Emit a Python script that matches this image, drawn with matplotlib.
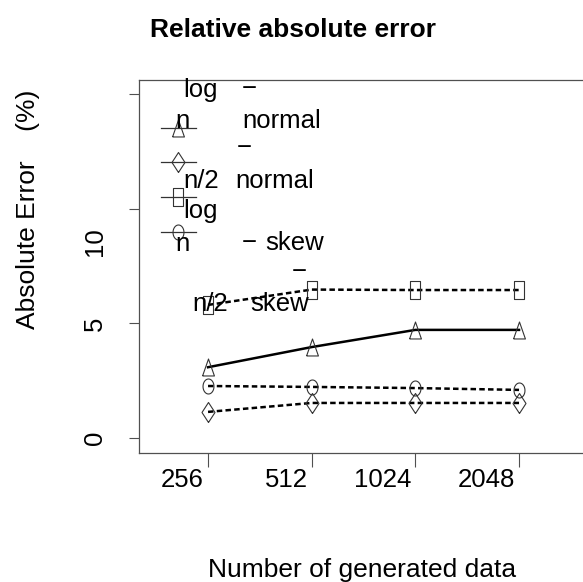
import numpy as np
import matplotlib
matplotlib.use('Agg')
import matplotlib.pyplot as plt
import matplotlib.transforms as mtransforms
from matplotlib.lines import Line2D

plt.rcParams['font.family'] = ['Liberation Sans', 'DejaVu Sans']

# Data.
sizes = ['256', '512', '1024', '2048']
log_n_normal = [3.09, 3.97, 4.72, 4.72]
n2_normal = [1.14, 1.53, 1.53, 1.53]
log_n_skew = [5.81, 6.48, 6.46, 6.46]
n2_skew = [2.27, 2.23, 2.18, 2.10]

W, H = 583, 582


# Convert pixel positions of the reference image to figure fractions.
def fx(x):
    return x / W


def fy(y):
    return 1 - y / H


# Open markers, a bit taller than wide like in the reference.
tri = [(-0.7, -1), (0.7, -1), (0, 1), (-0.7, -1)]
diamond = [(0, -1), (0.65, 0), (0, 1), (-0.65, 0), (0, -1)]
square = [(-0.55, -1), (0.55, -1), (0.55, 1), (-0.55, 1), (-0.55, -1)]
t = np.linspace(0, 2 * np.pi, 41)
circle = list(zip(0.73 * np.cos(t), np.sin(t)))

dash = (0, (2.2, 1.3))
series = [
    (log_n_normal, tri, 12.2, '-'),
    (n2_normal, diamond, 14.4, dash),
    (log_n_skew, square, 13.0, dash),
    (n2_skew, circle, 10.8, dash),
]

fig = plt.figure(figsize=(W / 100, H / 100), dpi=100)
ax = fig.add_axes([fx(139), fy(453), fx(620) - fx(139), fy(80) - fy(453)])

x = np.arange(1, len(sizes) + 1)
for values, mk, ms, ls in series:
    ax.plot(x, values, color='black', lw=1.8, linestyle=ls, marker=mk,
            ms=ms, mfc='none', mec='#333333', mew=0.8)

ax.set_xlim(0.334, 4.974)
ax.set_ylim(-0.655, 15.63)

# Axes frame: no right side.
ax.spines['right'].set_visible(False)
for side in ['left', 'top', 'bottom']:
    ax.spines[side].set_color('#505050')
    ax.spines[side].set_linewidth(0.9)

ax.set_xticks(x, sizes)
ax.tick_params(axis='x', length=10, width=0.8, color='#505050', pad=0.7,
               labelsize=18.5)
shift_x = mtransforms.ScaledTranslation(-4 / 100, 0, fig.dpi_scale_trans)
for lab in ax.get_xticklabels():
    lab.set_ha('right')
    lab.set_transform(lab.get_transform() + shift_x)

ax.set_yticks([0, 5, 10, 15], ['0', '5', '10', ''])
ax.tick_params(axis='y', length=7.2, width=0.8, color='#505050', pad=19.4,
               labelsize=18.5)
for lab in ax.get_yticklabels():
    lab.set_rotation(90)
    lab.set_rotation_mode('anchor')
    lab.set_ha('center')
    lab.set_va('baseline')
# The "10" label sits lower than its tick in the reference.
lab10 = ax.get_yticklabels()[2]
lab10.set_transform(lab10.get_transform() +
                    mtransforms.ScaledTranslation(0, -33 / 100,
                                                  fig.dpi_scale_trans))

# Titles.
fig.text(fx(293.5), fy(36.7), 'Relative absolute error', ha='center',
         va='baseline', fontsize=19, fontweight='bold')
fig.text(fx(362), fy(577), 'Number of generated data', ha='center',
         va='baseline', fontsize=19)
fig.text(fx(35), fy(209), 'Absolute Error    (%)', rotation=90,
         rotation_mode='anchor', ha='center', va='baseline', fontsize=19)

# Legend keys drawn by hand.
legend_rows = [128, 162, 197, 232]
for (values, mk, ms, ls), row in zip(series, legend_rows):
    fig.add_artist(Line2D([fx(161), fx(196)], [fy(row), fy(row)],
                          transform=fig.transFigure, color='#333333', lw=0.9))
    fig.add_artist(Line2D([fx(178)], [fy(row)], transform=fig.transFigure,
                          marker=mk, ms=ms, mfc='none', mec='#333333',
                          mew=0.8))

# Legend text, broken up the same way as in the reference.
legend_text = [
    ('log', 183, 97), ('\u2212', 242, 96),
    ('n', 175, 128), ('normal', 242, 128),
    ('\u2212', 237, 155),
    ('n/2', 183, 188), ('normal', 235, 188),
    ('log', 183, 218),
    ('n', 175, 251), ('\u2212', 242, 250), ('skew', 265, 250),
    ('\u2212', 292, 279),
    ('n/2', 192, 311), ('skew', 250, 311),
]
for txt, tx, ty in legend_text:
    fig.text(fx(tx), fy(ty), txt, ha='left', va='baseline', fontsize=18.5)

fig.savefig('out.png', dpi=100)
